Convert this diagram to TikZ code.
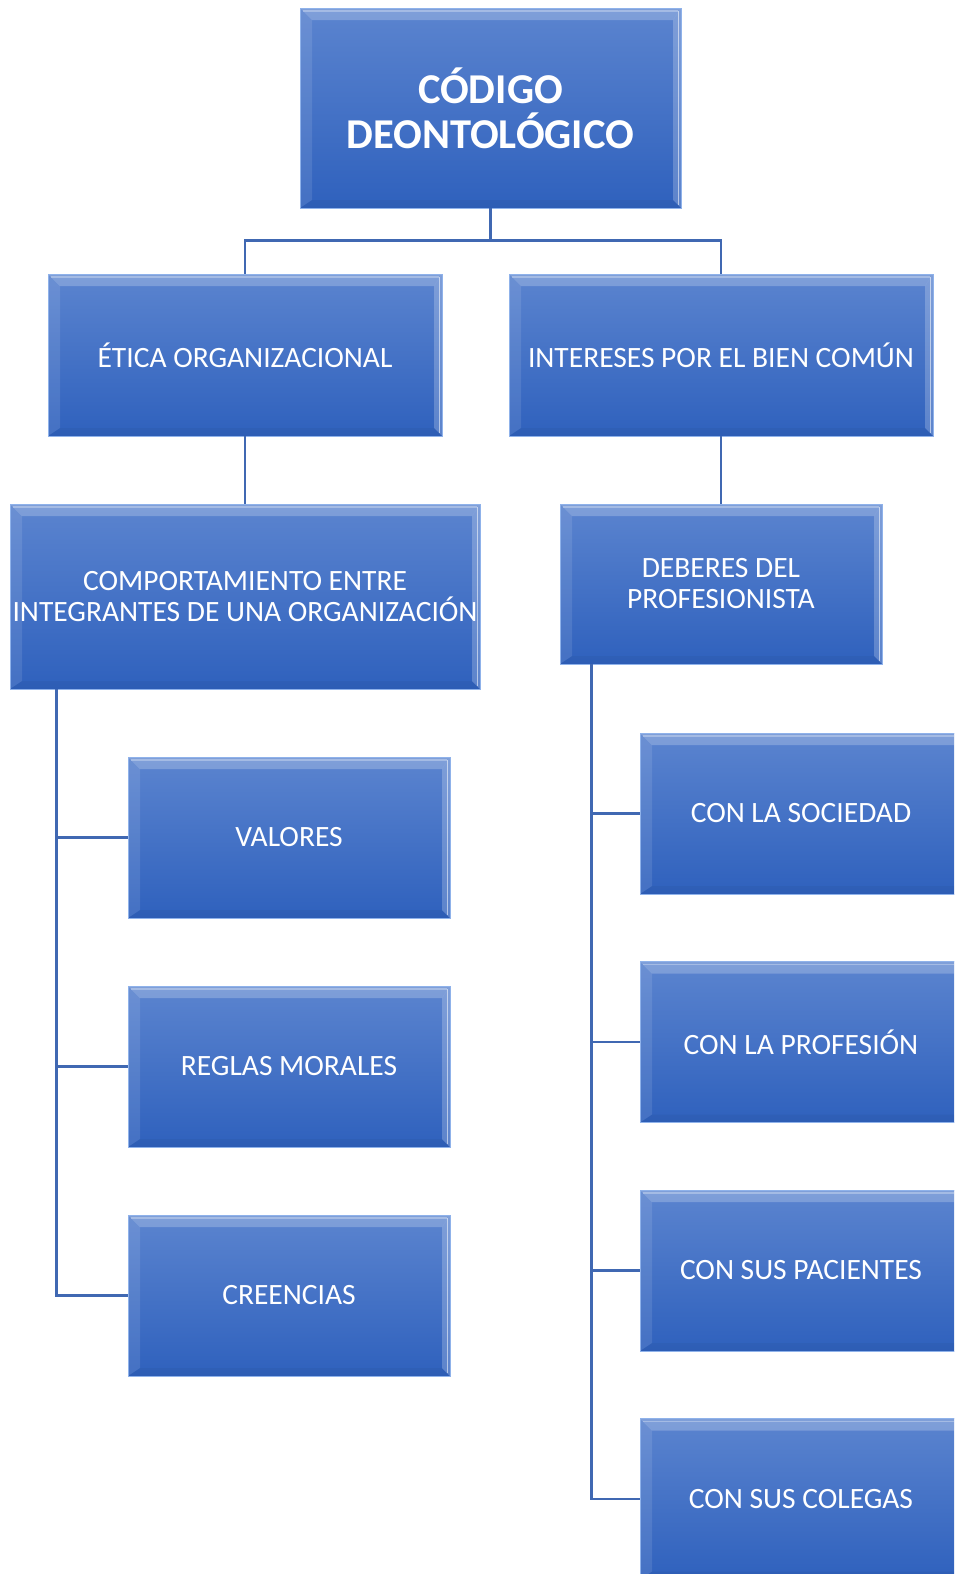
\documentclass[tikz,border=0pt]{standalone}
\usepackage{fontspec}
\setmainfont{Carlito}
\usepackage{tikz}
\usetikzlibrary{calc}
\definecolor{cajaarriba}{HTML}{5B84CF}
\definecolor{cajaabajo}{HTML}{2F61BD}
\definecolor{cajaborde}{HTML}{8FB2EA}
\definecolor{lineacolor}{HTML}{4068B2}
\tikzset{
  % Bisel de las cajas (como en SmartArt)
  bisel/.style={
    path picture={
      \coordinate (bnw) at (path picture bounding box.north west);
      \coordinate (bne) at (path picture bounding box.north east);
      \coordinate (bsw) at (path picture bounding box.south west);
      \coordinate (bse) at (path picture bounding box.south east);
      \fill[white, opacity=.22] (bnw) -- (bne) -- ([shift={(-8pt,-12pt)}]bne) -- ([shift={(12pt,-12pt)}]bnw) -- cycle;
      \fill[white, opacity=.10] (bnw) -- ([shift={(12pt,-12pt)}]bnw) -- ([shift={(12pt,8pt)}]bsw) -- (bsw) -- cycle;
      \fill[white, opacity=.22] (bne) -- ([shift={(-8pt,-12pt)}]bne) -- ([shift={(-8pt,8pt)}]bse) -- (bse) -- cycle;
      \fill[black, opacity=.04] (bsw) -- ([shift={(12pt,8pt)}]bsw) -- ([shift={(-8pt,8pt)}]bse) -- (bse) -- cycle;
      \draw[white, opacity=.55, line width=1.2pt] ([xshift=-2.5pt,yshift=-3pt]bne) -- ([xshift=-2.5pt,yshift=3pt]bse);
      \draw[white, opacity=.30, line width=1.2pt] ([shift={(3pt,-3pt)}]bnw) -- ([shift={(-3pt,-3pt)}]bne);
    }
  },
  % Estilo base de las cajas
  caja/.style={
    rectangle, draw=cajaborde, line width=0.8pt,
    top color=cajaarriba, bottom color=cajaabajo,
    text=white, align=center, inner sep=0pt,
    font=\fontsize{29.5}{31}\selectfont, bisel
  },
  % Caja del titulo
  titulo/.style={caja, font=\fontsize{42.5}{45}\selectfont\bfseries},
  % Lineas de union
  conector/.style={draw=lineacolor, line width=2.8pt}
}

\begin{document}
\begin{tikzpicture}[x=1pt, y=-1pt]
  \clip (0,0) rectangle (954,1574);

  % Nivel superior
  \node[titulo, minimum width=381pt, minimum height=200pt] (codigo) at (490.5,108) {CÓDIGO\\DEONTOLÓGICO};

  % Segundo nivel
  \node[caja, minimum width=394pt, minimum height=162pt] (etica) at (245,355) {ÉTICA ORGANIZACIONAL};
  \node[caja, minimum width=424pt, minimum height=162pt] (intereses) at (721,355) {INTERESES POR EL BIEN COMÚN};

  % Tercer nivel
  \node[caja, minimum width=470pt, minimum height=185pt] (comportamiento) at (245,596.5) {COMPORTAMIENTO ENTRE\\INTEGRANTES DE UNA ORGANIZACIÓN};
  \node[caja, minimum width=322pt, minimum height=160pt] (deberes) at (721,584) {DEBERES DEL\\PROFESIONISTA};

  % Hijos de la izquierda
  \node[caja, minimum width=322pt, minimum height=161pt] (valores) at (289,837.5) {VALORES};
  \node[caja, minimum width=322pt, minimum height=161pt] (reglas) at (289,1066.5) {REGLAS MORALES};
  \node[caja, minimum width=322pt, minimum height=161pt] (creencias) at (289,1295.5) {CREENCIAS};

  % Hijos de la derecha
  \node[caja, minimum width=322pt, minimum height=161pt] (sociedad) at (801,813.5) {CON LA SOCIEDAD};
  \node[caja, minimum width=322pt, minimum height=161pt] (profesion) at (801,1042) {CON LA PROFESIÓN};
  \node[caja, minimum width=322pt, minimum height=161pt] (pacientes) at (801,1270.5) {CON SUS PACIENTES};
  \node[caja, minimum width=322pt, minimum height=161pt] (colegas) at (801,1499) {CON SUS COLEGAS};

  % Conectores
  \draw[conector] (codigo.south) -- ++(0,32) -| (etica.north);
  \draw[conector] (codigo.south) -- ++(0,32) -| (intereses.north);
  \draw[conector] (etica.south) -- (comportamiento.north);
  \draw[conector] (intereses.south) -- (deberes.north);

  \foreach \hijo in {valores, reglas, creencias}
    \draw[conector] ([xshift=47pt]comportamiento.south west) |- (\hijo.west);
  \foreach \hijo in {sociedad, profesion, pacientes, colegas}
    \draw[conector] ([xshift=32pt]deberes.south west) |- (\hijo.west);
\end{tikzpicture}
\end{document}
